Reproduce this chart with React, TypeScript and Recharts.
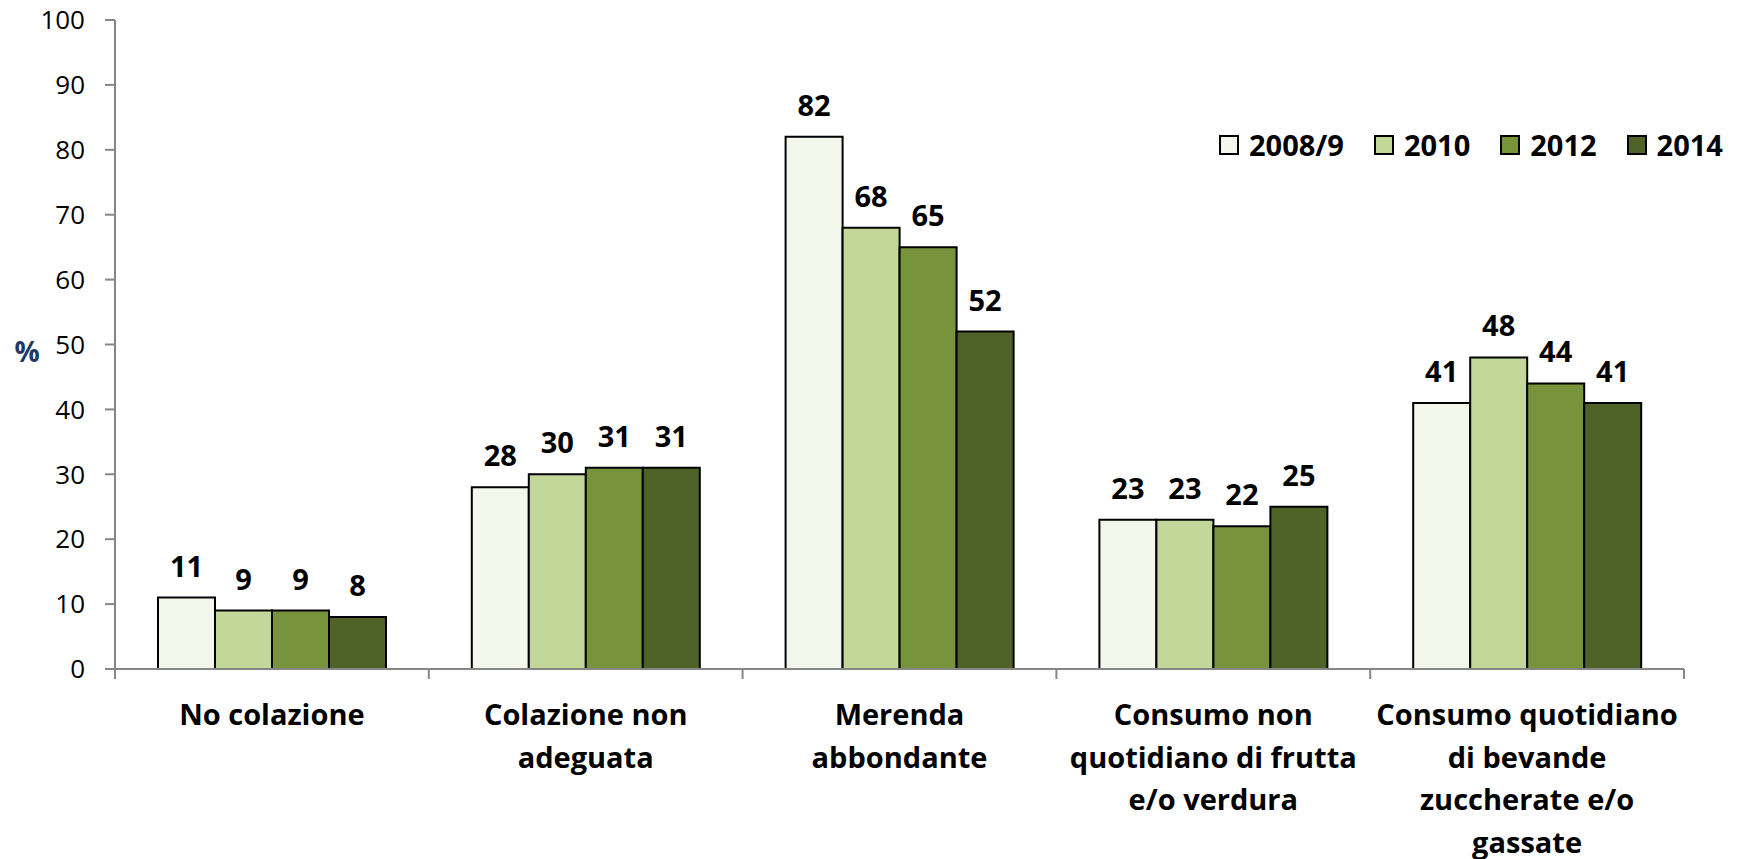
import { BarChart, Bar, XAxis, YAxis, LabelList, Legend } from 'recharts';

const categorie = [
  'No colazione',
  'Colazione non adeguata',
  'Merenda abbondante',
  'Consumo non quotidiano di frutta e/o verdura',
  'Consumo quotidiano di bevande zuccherate e/o gassate',
];

// righe delle etichette sull'asse x
const righeEtichette: Record<string, string[]> = {
  'No colazione': ['No colazione'],
  'Colazione non adeguata': ['Colazione non', 'adeguata'],
  'Merenda abbondante': ['Merenda', 'abbondante'],
  'Consumo non quotidiano di frutta e/o verdura': ['Consumo non', 'quotidiano di frutta', 'e/o verdura'],
  'Consumo quotidiano di bevande zuccherate e/o gassate': ['Consumo quotidiano', 'di bevande', 'zuccherate e/o', 'gassate'],
};

const anni = ['2008/9', '2010', '2012', '2014'];
const v2008 = [11, 28, 82, 23, 41];
const v2010 = [9, 30, 68, 23, 48];
const v2012 = [9, 31, 65, 22, 44];
const v2014 = [8, 31, 52, 25, 41];
const yTicks = [0, 10, 20, 30, 40, 50, 60, 70, 80, 90, 100];

const COLORS = ['#F4F7EC', '#C4D79B', '#77933C', '#4F6228'];
const FONT = '"Open Sans", Lato, sans-serif';

const data = categorie.map((c, i) => ({
  name: c,
  a2008: v2008[i],
  a2010: v2010[i],
  a2012: v2012[i],
  a2014: v2014[i],
}));

const W = 1737;
const H = 859;
const LEFT = 115;
const RIGHT = 53;
const HALF = (W - LEFT - RIGHT) / categorie.length / 2;

const CategoryTick = (props: any) => {
  const { x, y, payload, index } = props;
  const lines = righeEtichette[payload.value] || [payload.value];
  return (
    <g>
      <line x1={x - HALF} y1={y - 8} x2={x - HALF} y2={y + 2} stroke="#868686" strokeWidth={2} />
      {index === categorie.length - 1 && (
        <line x1={x + HALF} y1={y - 8} x2={x + HALF} y2={y + 2} stroke="#868686" strokeWidth={2} />
      )}
      <text textAnchor="middle" fontFamily={FONT} fontWeight="bold" fontSize={29} fill="#000">
        {lines.map((l: string, i: number) => (
          <tspan key={i} x={x} y={y + 48 + i * 42.5}>{l}</tspan>
        ))}
      </text>
    </g>
  );
};

const LegendContent = () => (
  <div style={{ display: 'flex', fontFamily: FONT, fontWeight: 'bold', fontSize: 29, alignItems: 'center', lineHeight: '36px' }}>
    {anni.map((a, i) => (
      <div key={a} style={{ display: 'flex', alignItems: 'center', marginLeft: i === 0 ? 0 : 30 }}>
        <span style={{ width: 16, height: 16, background: COLORS[i], border: '2px solid #000', display: 'inline-block', marginRight: 10 }} />
        <span>{a}</span>
      </div>
    ))}
  </div>
);

export default function App() {
  const keys = ['a2008', 'a2010', 'a2012', 'a2014'];
  return (
    <div style={{ position: 'absolute', left: 0, top: 0, background: '#fff' }}>
      <BarChart
        width={W}
        height={H}
        data={data}
        margin={{ top: 20, right: RIGHT, left: 0, bottom: 20 }}
        barGap={0}
        barCategoryGap={43}
      >
        <XAxis
          dataKey="name"
          height={170}
          axisLine={{ stroke: '#868686', strokeWidth: 2 }}
          tickLine={false}
          tick={<CategoryTick />}
          interval={0}
        />
        <YAxis
          width={LEFT}
          domain={[0, 100]}
          ticks={yTicks}
          axisLine={{ stroke: '#868686', strokeWidth: 2 }}
          tickLine={{ stroke: '#868686', strokeWidth: 2 }}
          tickSize={10}
          tickMargin={20}
          tick={{ fontFamily: FONT, fontSize: 26, fill: '#000' }}
          label={{
            content: () => (
              <text x={27} y={362} textAnchor="middle" fontFamily={FONT} fontWeight="bold" fontSize={28} fill="#1F3864">%</text>
            ),
          }}
        />
        <Legend
          layout="horizontal"
          verticalAlign="middle"
          content={<LegendContent />}
          wrapperStyle={{ top: 127, left: 1219, width: 520 }}
        />
        {keys.map((k, i) => (
          <Bar key={k} dataKey={k} name={anni[i]} fill={COLORS[i]} stroke="#000" strokeWidth={2} isAnimationActive={false}>
            <LabelList
              dataKey={k}
              position="top"
              offset={21}
              fontFamily={FONT}
              fontWeight="bold"
              fontSize={29}
              fill="#000"
            />
          </Bar>
        ))}
      </BarChart>
    </div>
  );
}
